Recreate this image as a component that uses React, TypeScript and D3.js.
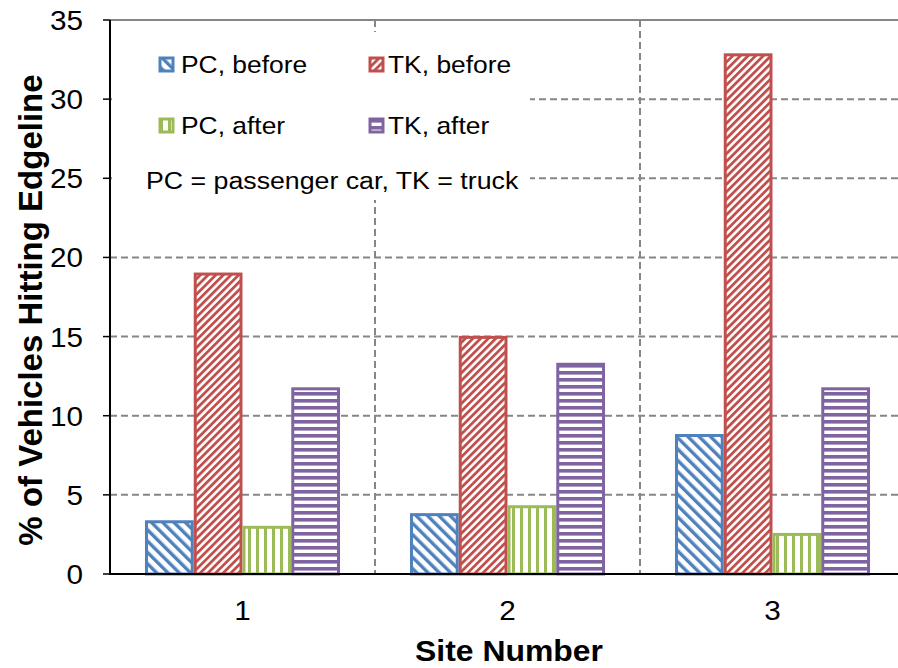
import React from "react";
import * as d3 from "d3";

const sites = ["1", "2", "3"];
const seriesNames = ["PC, before", "TK, before", "PC, after", "TK, after"];
const pcBefore = [3.3, 3.75, 8.75];
const tkBefore = [18.95, 14.95, 32.8];
const pcAfter = [2.95, 4.25, 2.5];
const tkAfter = [11.7, 13.25, 11.7];
const yTicks = [0, 5, 10, 15, 20, 25, 30, 35];
const seriesColors = ["#4F81BD", "#C0504D", "#9BBB59", "#8064A2"];
const patternIds = ["pBlue", "pRed", "pGreen", "pPurple"];
const note = "PC = passenger car, TK = truck";
const xTitle = "Site Number";
const yTitle = "% of Vehicles Hitting Edgeline";

const W = 898;
const H = 668;
const M = { left: 110, top: 20, bottom: 574, right: 905 };
const SX = 1.1;
const FONT = "Arial, 'Liberation Sans', sans-serif";

const T = ({ x, y, size, anchor = "start", bold = false, rotate = 0, sx = SX, children }: any) => (
  <text
    transform={`translate(${x},${y}) scale(${sx},1) rotate(${rotate})`}
    fontSize={size}
    fontFamily={FONT}
    fontWeight={bold ? "bold" : "normal"}
    textAnchor={anchor}
    fill="#000"
  >
    {children}
  </text>
);

export default function App() {
  const values = [pcBefore, tkBefore, pcAfter, tkAfter];
  const y = d3.scaleLinear().domain([0, 35]).range([M.bottom, M.top]);
  const x0 = d3.scaleBand().domain(sites).range([M.left, M.right]).padding(0);
  const groupW = x0.bandwidth() * 0.736;
  const x1 = d3
    .scaleBand()
    .domain(seriesNames)
    .range([0, groupW])
    .padding(0);
  const gridColor = "#868686";

  const legendPos = [
    { mx: 160, my: 58, tx: 181, ty: 73 },
    { mx: 370, my: 58, tx: 388, ty: 73 },
    { mx: 160, my: 119, tx: 181, ty: 134 },
    { mx: 370, my: 119, tx: 388, ty: 134 },
  ];

  return (
    <svg
      width={W}
      height={H}
      style={{ position: "absolute", left: 0, top: 0, background: "#fff" }}
    >
      <defs>
        <pattern id="pBlue" width={8} height={8} patternUnits="userSpaceOnUse" patternTransform="rotate(-45)">
          <rect width={8} height={8} fill="#fff" />
          <rect width={3.4} height={8} fill={seriesColors[0]} />
        </pattern>
        <pattern id="pRed" width={5.4} height={5.4} patternUnits="userSpaceOnUse" patternTransform="rotate(45)">
          <rect width={5.4} height={5.4} fill="#fff" />
          <rect width={2.8} height={5.4} fill={seriesColors[1]} />
        </pattern>
        <pattern id="pGreen" width={8} height={8} patternUnits="userSpaceOnUse">
          <rect width={8} height={8} fill="#fff" />
          <rect width={3} height={8} fill={seriesColors[2]} />
        </pattern>
        <pattern id="pPurple" width={7} height={7} patternUnits="userSpaceOnUse">
          <rect width={7} height={7} fill="#fff" />
          <rect width={7} height={3.6} fill={seriesColors[3]} />
        </pattern>
      </defs>

      {yTicks.filter((t) => t > 0).map((t) => (
        <line
          key={"h" + t}
          x1={M.left}
          x2={W}
          y1={y(t)}
          y2={y(t)}
          stroke={gridColor}
          strokeWidth={2}
          strokeDasharray={t === 35 ? undefined : "7,4"}
        />
      ))}
      {sites.slice(1).map((s) => (
        <line
          key={"v" + s}
          x1={x0(s)}
          x2={x0(s)}
          y1={M.top}
          y2={M.bottom}
          stroke={gridColor}
          strokeWidth={2}
          strokeDasharray="7,4"
        />
      ))}

      {values.map((vals, si) =>
        sites.map((s, ci) => {
          const bx = (x0(s) as number) + (x0.bandwidth() - groupW) / 2 + (x1(seriesNames[si]) as number);
          const bw = x1.bandwidth();
          const top = y(vals[ci]);
          return (
            <rect
              key={si + "-" + ci}
              x={bx + 1.5}
              y={top}
              width={bw - 3}
              height={M.bottom - top}
              fill={`url(#${patternIds[si]})`}
              stroke={seriesColors[si]}
              strokeWidth={3}
            />
          );
        })
      )}

      <rect x={112} y={32} width={418} height={168} fill="#fff" />
      {seriesNames.map((n, i) => (
        <g key={n}>
          <rect
            x={legendPos[i].mx}
            y={legendPos[i].my}
            width={13}
            height={13}
            fill={`url(#${patternIds[i]})`}
            stroke={seriesColors[i]}
            strokeWidth={3}
          />
          <T x={legendPos[i].tx} y={legendPos[i].ty} size={24}>{n}</T>
        </g>
      ))}
      <T x={146} y={189} size={24.3}>{note}</T>

      <line x1={M.left} x2={M.left} y1={M.top} y2={M.bottom + 1} stroke="#000" strokeWidth={2} />
      <line x1={M.left - 1} x2={W} y1={M.bottom} y2={M.bottom} stroke="#000" strokeWidth={2} />
      {yTicks.map((t) => (
        <g key={"yt" + t}>
          <line x1={M.left - 7} x2={M.left} y1={y(t)} y2={y(t)} stroke="#000" strokeWidth={1.5} />
          <T x={83} y={y(t) + 10} size={27} anchor="end">{t}</T>
        </g>
      ))}
      {sites.map((s) => (
        <T key={"xt" + s} x={(x0(s) as number) + x0.bandwidth() / 2} y={620} size={27} anchor="middle">
          {s}
        </T>
      ))}
      <T x={509} y={661} size={29} anchor="middle" bold>{xTitle}</T>
      <T x={42} y={310} size={33} anchor="middle" bold rotate={-90} sx={1}>{yTitle}</T>
    </svg>
  );
}
